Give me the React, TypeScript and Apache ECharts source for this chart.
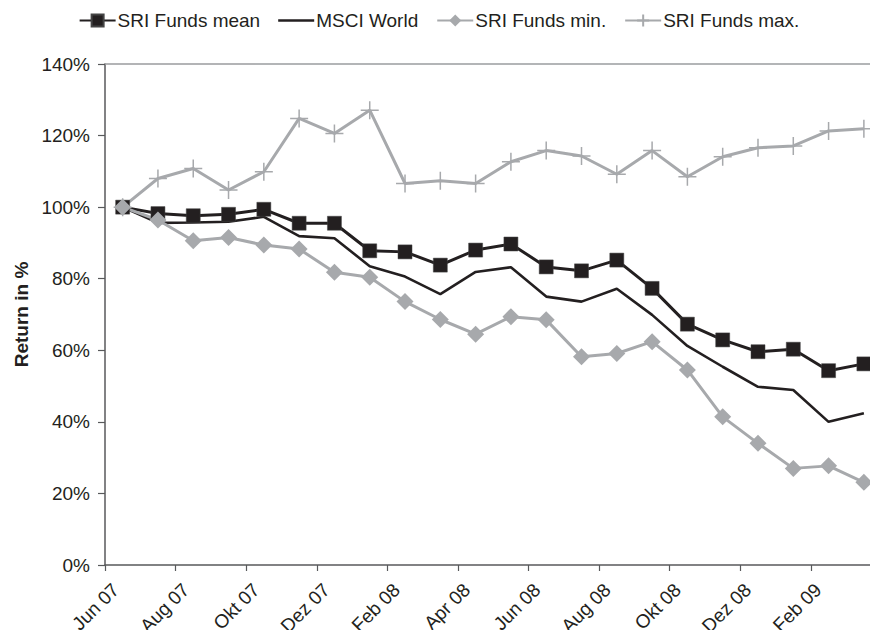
import React, { useEffect, useRef } from "react";
import * as echarts from "echarts";

const months = [
  "Jun 07", "Jul 07", "Aug 07", "Sep 07", "Okt 07", "Nov 07", "Dez 07", "Jan 08",
  "Feb 08", "Mär 08", "Apr 08", "Mai 08", "Jun 08", "Jul 08", "Aug 08", "Sep 08",
  "Okt 08", "Nov 08", "Dez 08", "Jan 09", "Feb 09", "Mär 09",
];

const sriMean = [100, 98.2, 97.6, 98.0, 99.4, 95.5, 95.5, 87.8, 87.5, 83.8, 88.0, 89.7, 83.3, 82.2, 85.2, 77.3, 67.3, 62.9, 59.6, 60.3, 54.3, 56.2];
const msciWorld = [100, 95.6, 95.7, 95.9, 97.3, 91.9, 91.3, 83.5, 80.6, 75.7, 81.9, 83.2, 75.0, 73.6, 77.2, 69.9, 61.2, 55.4, 49.8, 48.9, 40.0, 42.4];
const sriMin = [100, 96.4, 90.6, 91.5, 89.4, 88.3, 81.8, 80.4, 73.6, 68.6, 64.5, 69.4, 68.5, 58.2, 59.1, 62.4, 54.5, 41.4, 34.0, 27.0, 27.7, 23.1];
const sriMax = [100, 108.0, 110.8, 104.8, 109.9, 124.8, 120.6, 127.1, 106.6, 107.4, 106.6, 112.7, 115.8, 114.3, 109.2, 115.8, 108.5, 114.1, 116.6, 117.1, 121.3, 121.9];

const yTicks = [0, 20, 40, 60, 80, 100, 120, 140];

const BLACK = "#231f20";
const GRAY = "#a7a9ac";
const AXIS = "#58595b";
const FONT = "Liberation Sans, Arial, sans-serif";
const FS = 19;

const toPoints = (arr: number[]) => arr.map((v, i) => [i + 0.5, v]);

export default function App() {
  const ref = useRef<HTMLDivElement>(null);
  useEffect(() => {
    if (!ref.current) return;
    const chart = echarts.init(ref.current, null, { renderer: "svg" });
    const xMax = months.length - 0.1;
    chart.setOption({
      animation: false,
      backgroundColor: "#ffffff",
      textStyle: { fontFamily: FONT, color: BLACK },
      legend: {
        top: 6,
        left: "center",
        itemWidth: 36,
        itemHeight: 15,
        itemGap: 18,
        textStyle: { fontSize: FS, color: BLACK, fontFamily: FONT, padding: [0, 0, 0, -3] },
        data: [
          "SRI Funds mean",
          { name: "MSCI World", icon: "path://M0,0 L40,0 L40,3 L0,3 Z" },
          "SRI Funds min.",
          "SRI Funds max.",
        ],
      },
      grid: [
        { left: 105, top: 64, width: 773, height: 501, containLabel: false },
        { left: 109, top: 64, width: 773, height: 501, containLabel: false },
      ],
      xAxis: [
        {
          type: "value",
          gridIndex: 0,
          min: 0,
          max: xMax,
          interval: 2,
          axisLine: { show: true, onZero: false, lineStyle: { color: AXIS, width: 1.5 } },
          axisTick: { show: true, length: 6, lineStyle: { color: AXIS, width: 1.2 } },
          axisLabel: { show: false },
          splitLine: { show: false },
        },
        {
          type: "value",
          gridIndex: 0,
          position: "top",
          min: 0,
          max: xMax,
          interval: 2,
          axisLine: { show: true, onZero: false, lineStyle: { color: "#9a9c9f", width: 1.5 } },
          axisTick: { show: false },
          axisLabel: { show: false },
          splitLine: { show: false },
        },
        {
          type: "value",
          gridIndex: 1,
          min: 0,
          max: xMax,
          interval: 2,
          axisLine: { show: false },
          axisTick: { show: false },
          splitLine: { show: false },
          axisLabel: {
            show: true,
            rotate: 45,
            align: "right",
            verticalAlign: "top",
            margin: 26,
            fontSize: FS,
            color: BLACK,
            fontFamily: FONT,
            showMaxLabel: false,
            formatter: (v: number) =>
              Number.isInteger(v) && v % 2 === 0 && months[v] ? months[v] : "",
          },
        },
      ],
      yAxis: [
        {
          type: "value",
          gridIndex: 0,
          min: yTicks[0],
          max: yTicks[yTicks.length - 1],
          interval: 20,
          name: "Return in %",
          nameLocation: "middle",
          nameGap: 70,
          nameTextStyle: { fontSize: FS, fontWeight: "bold", color: BLACK, fontFamily: FONT },
          axisLine: { show: true, lineStyle: { color: AXIS, width: 1.5 } },
          axisTick: { show: true, length: 7, lineStyle: { color: AXIS, width: 1.2 } },
          axisLabel: {
            margin: 15,
            fontSize: FS,
            color: BLACK,
            fontFamily: FONT,
            formatter: "{value}%",
          },
          splitLine: { show: false },
        },
        {
          type: "value",
          gridIndex: 1,
          min: 0,
          max: 140,
          show: false,
        },
      ],
      series: [
        {
          name: "SRI Funds mean",
          type: "line",
          xAxisIndex: 0,
          yAxisIndex: 0,
          data: toPoints(sriMean),
          symbol: "rect",
          symbolSize: 14,
          lineStyle: { color: BLACK, width: 3 },
          itemStyle: { color: BLACK, borderColor: "#444", borderWidth: 0.5 },
          emphasis: { disabled: true },
        },
        {
          name: "MSCI World",
          type: "line",
          xAxisIndex: 0,
          yAxisIndex: 0,
          data: toPoints(msciWorld),
          symbol: "none",
          lineStyle: { color: BLACK, width: 2.6 },
          itemStyle: { color: BLACK },
          emphasis: { disabled: true },
        },
        {
          name: "SRI Funds min.",
          type: "line",
          xAxisIndex: 0,
          yAxisIndex: 0,
          data: toPoints(sriMin),
          symbol: "diamond",
          symbolSize: 17,
          lineStyle: { color: GRAY, width: 3 },
          itemStyle: { color: GRAY },
          emphasis: { disabled: true },
        },
        {
          name: "SRI Funds max.",
          type: "line",
          xAxisIndex: 0,
          yAxisIndex: 0,
          data: toPoints(sriMax),
          symbol: "path://M0,10 L20,10 M10,0 L10,20",
          symbolSize: 18,
          symbolKeepAspect: true,
          lineStyle: { color: GRAY, width: 3 },
          itemStyle: { color: "none", borderColor: GRAY, borderWidth: 1.5 },
          emphasis: { disabled: true },
        },
      ],
    });
    return () => chart.dispose();
  }, []);
  return <div ref={ref} style={{ width: 878, height: 638, margin: -8 }} />;
}
